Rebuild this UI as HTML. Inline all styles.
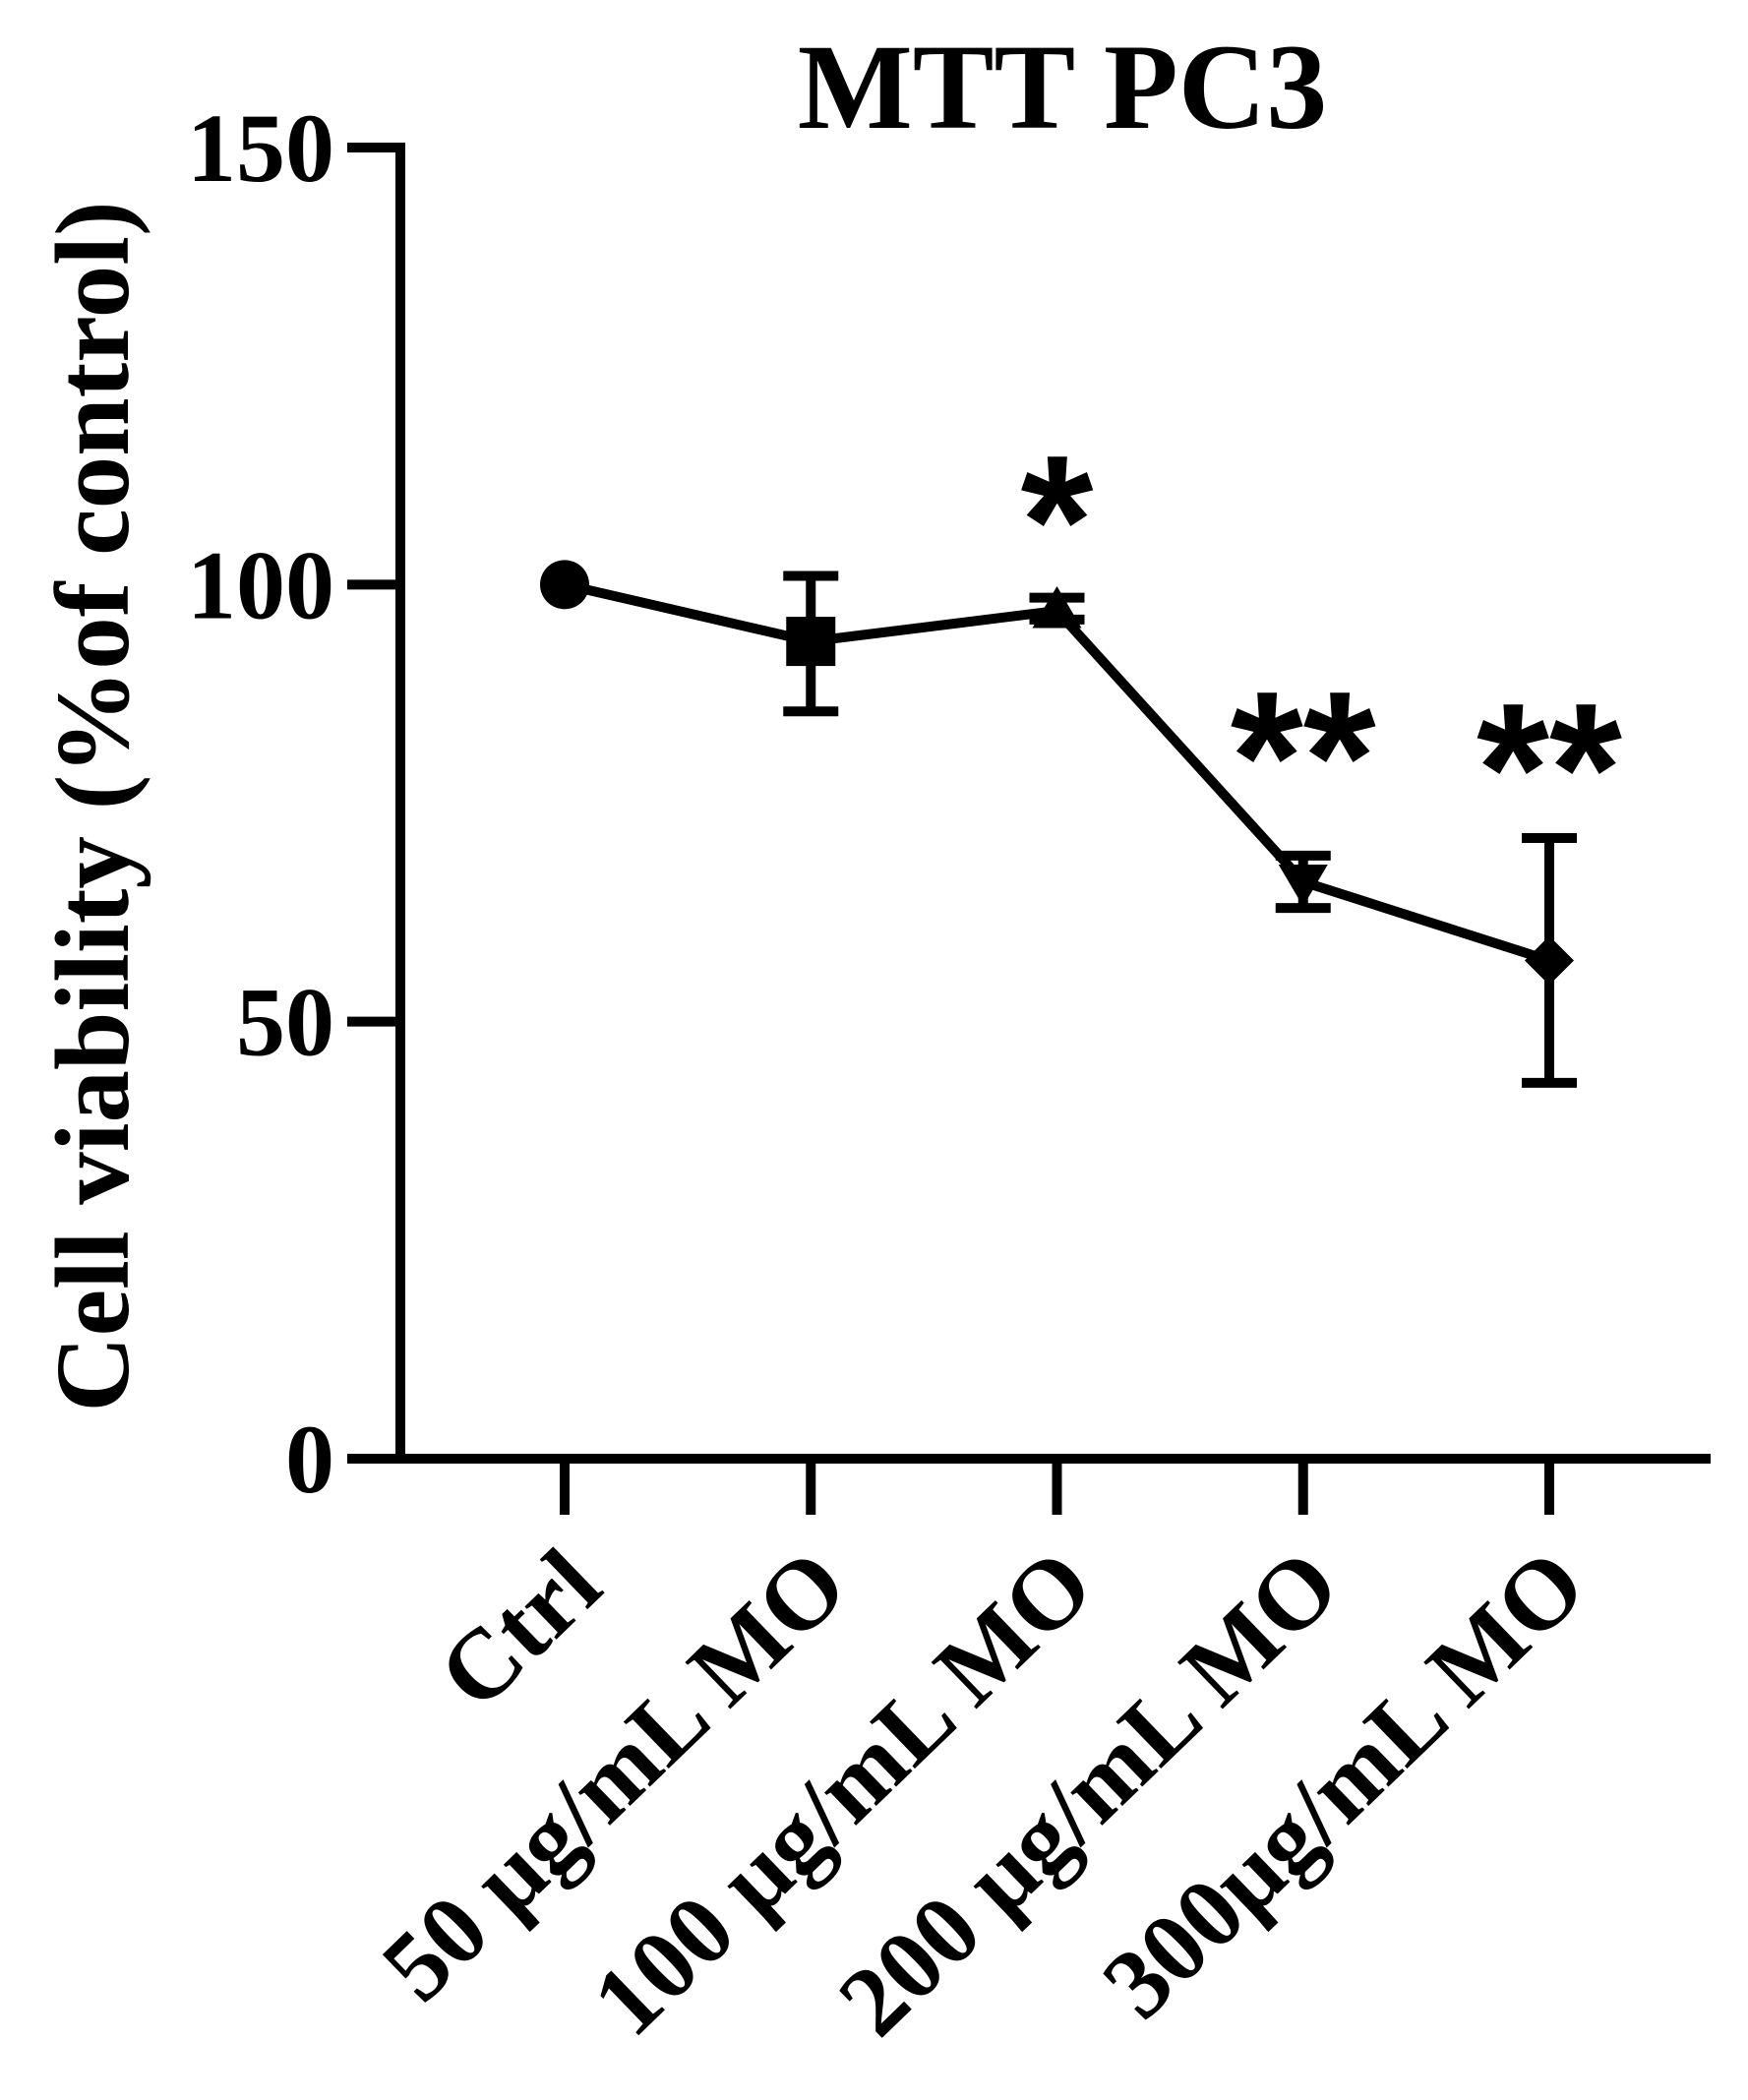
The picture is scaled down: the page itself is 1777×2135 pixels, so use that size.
<!DOCTYPE html>
<html><head><meta charset="utf-8"><style>
html,body{margin:0;padding:0;background:#fff}
svg{display:block}
text{font-family:"Liberation Serif",serif;font-weight:bold;fill:#000}
</style></head><body>
<svg id="chart" width="1777" height="2135" viewBox="0 0 1777 2135" xmlns="http://www.w3.org/2000/svg"></svg>
<script>
const categories = ["Ctrl","50 μg/mL MO","100 μg/mL MO","200 μg/mL MO","300μg/mL MO"];
const values = [100, 93.5, 97, 66, 57];
const errLow = [100, 85.5, 96, 63, 43];
const errHigh = [100, 101, 98.5, 69, 71];
const markers = ["circle","square","triangle","invtriangle","diamond"];
const significance = ["","","*","**","**"];
const yTicks = [0, 50, 100, 150];

const svg = document.getElementById('chart');
const NS = "http://www.w3.org/2000/svg";
const X0 = 574, XSTEP = 250.25;
const Y0 = 1483, YTOP = 150, YMAX = 150;
const xs = i => X0 + i * XSTEP;
const ys = v => Y0 - (v / YMAX) * (Y0 - YTOP);
function el(tag, attrs, parent) {
  const e = document.createElementNS(NS, tag);
  for (const k in attrs) e.setAttribute(k, attrs[k]);
  (parent || svg).appendChild(e);
  return e;
}
const S = 10;
let t = el('text', {x: 1080, y: 130, 'font-size': 124, 'text-anchor': 'middle'});
t.textContent = "MTT PC3";


t = el('text', {x: 0, y: 0, 'font-size': 107, 'text-anchor': 'middle', transform: 'translate(130,820) rotate(-90)'});
t.textContent = "Cell viability (%of control)";


let a = el('line', {x1: 407, y1: ys(150) - 5, x2: 407, y2: Y0 + 5, stroke: '#000', 'stroke-width': S});


a = el('line', {x1: 353, y1: Y0, x2: 1739, y2: Y0, stroke: '#000', 'stroke-width': S});


yTicks.forEach(v => {
  const tk = el('line', {x1: 353, y1: ys(v), x2: 407, y2: ys(v), stroke: '#000', 'stroke-width': S});
  
  
  const lb = el('text', {x: 340, y: ys(v) + 34, 'font-size': 100, 'text-anchor': 'end'});
  lb.textContent = v;
  
  
});
categories.forEach((c, i) => {
  const tk = el('line', {x1: xs(i), y1: Y0, x2: xs(i), y2: 1540, stroke: '#000', 'stroke-width': S});
  
  
  const lb = el('text', {x: 0, y: 0, 'font-size': 101, 'text-anchor': 'end', transform: `translate(${xs(i) + 42},${1618}) rotate(-44)`});
  lb.textContent = c;
  
  
});
const pts = values.map((v, i) => xs(i) + ',' + ys(v)).join(' ');
const pl = el('polyline', {points: pts, fill: 'none', stroke: '#000', 'stroke-width': S});


values.forEach((v, i) => {
  if (errLow[i] === errHigh[i]) return;
  const g = el('g', {stroke: '#000', 'stroke-width': S});
  
  
  el('line', {x1: xs(i), y1: ys(errLow[i]), x2: xs(i), y2: ys(errHigh[i])}, g);
  el('line', {x1: xs(i) - 28, y1: ys(errLow[i]), x2: xs(i) + 28, y2: ys(errLow[i])}, g);
  el('line', {x1: xs(i) - 28, y1: ys(errHigh[i]), x2: xs(i) + 28, y2: ys(errHigh[i])}, g);
});
values.forEach((v, i) => {
  const x = xs(i), y = ys(v), r = 25;
  let m;
  if (markers[i] === 'circle') m = el('circle', {cx: x, cy: y, r: r});
  else if (markers[i] === 'square') m = el('rect', {x: x - r, y: y - r, width: 2 * r, height: 2 * r});
  else if (markers[i] === 'triangle') m = el('polygon', {points: `${x},${y - r} ${x + r},${y + r * 0.7} ${x - r},${y + r * 0.7}`});
  else if (markers[i] === 'invtriangle') m = el('polygon', {points: `${x - r},${y - r * 0.7} ${x + r},${y - r * 0.7} ${x},${y + r}`});
  else m = el('polygon', {points: `${x},${y - r} ${x + r},${y} ${x},${y + r} ${x - r},${y}`});
  m.setAttribute('fill', '#000');
  
  
});
const starY = [0, 0, 595, 835, 847];
significance.forEach((s, i) => {
  if (!s) return;
  const tx = el('text', {x: xs(i), y: starY[i], 'font-size': 190, 'text-anchor': 'middle', style: 'font-family:"Liberation Sans",sans-serif'});
  tx.textContent = s;
  
  
});
</script>
</body></html>
